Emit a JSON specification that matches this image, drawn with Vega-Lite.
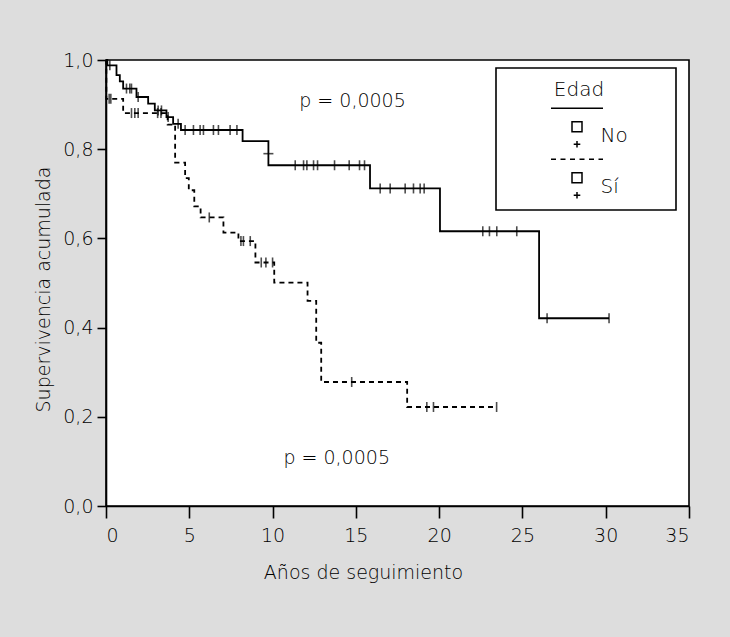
{
  "$schema": "https://vega.github.io/schema/vega-lite/v6.json",
  "width": 583,
  "height": 446,
  "autosize": {"type": "none"},
  "padding": {"left": 106, "top": 60, "right": 41, "bottom": 131},
  "background": "#dddddd",
  "view": {"fill": "white", "stroke": "black", "strokeWidth": 1.6},
  "config": {
    "font": "DejaVu Sans",
    "axis": {
      "domainColor": "black", "domainWidth": 1.6, "tickColor": "black", "tickWidth": 1.6,
      "labelColor": "black", "titleColor": "black", "labelFontSize": 19, "titleFontSize": 19,
      "labelFont": "DejaVu Sans", "titleFont": "DejaVu Sans", "titleFontWeight": 300, "labelFontWeight": 300, "grid": false
    },
    "legend": {
      "labelFont": "DejaVu Sans", "titleFont": "DejaVu Sans"
    }
  },
  "datasets": {
    "curvas": [
      {"grupo": "No", "t": 0, "s": 1.0},
      {"grupo": "No", "t": 0.08, "s": 0.988},
      {"grupo": "No", "t": 0.63, "s": 0.966},
      {"grupo": "No", "t": 0.83, "s": 0.952},
      {"grupo": "No", "t": 1.03, "s": 0.936},
      {"grupo": "No", "t": 1.83, "s": 0.917},
      {"grupo": "No", "t": 2.53, "s": 0.902},
      {"grupo": "No", "t": 2.93, "s": 0.887},
      {"grupo": "No", "t": 3.63, "s": 0.872},
      {"grupo": "No", "t": 4.03, "s": 0.857},
      {"grupo": "No", "t": 4.5, "s": 0.843},
      {"grupo": "No", "t": 8.2, "s": 0.818},
      {"grupo": "No", "t": 9.75, "s": 0.764},
      {"grupo": "No", "t": 15.85, "s": 0.712},
      {"grupo": "No", "t": 20.05, "s": 0.616},
      {"grupo": "No", "t": 26.0, "s": 0.421},
      {"grupo": "No", "t": 30.2, "s": 0.421},
      {"grupo": "Sí", "t": 0, "s": 1.0},
      {"grupo": "Sí", "t": 0.02, "s": 0.913},
      {"grupo": "Sí", "t": 1.03, "s": 0.881},
      {"grupo": "Sí", "t": 3.7, "s": 0.855},
      {"grupo": "Sí", "t": 4.15, "s": 0.77},
      {"grupo": "Sí", "t": 4.75, "s": 0.735},
      {"grupo": "Sí", "t": 4.97, "s": 0.708},
      {"grupo": "Sí", "t": 5.3, "s": 0.672},
      {"grupo": "Sí", "t": 5.68, "s": 0.647},
      {"grupo": "Sí", "t": 7.05, "s": 0.613},
      {"grupo": "Sí", "t": 7.95, "s": 0.594},
      {"grupo": "Sí", "t": 8.97, "s": 0.546},
      {"grupo": "Sí", "t": 10.1, "s": 0.501},
      {"grupo": "Sí", "t": 12.1, "s": 0.46},
      {"grupo": "Sí", "t": 12.62, "s": 0.366},
      {"grupo": "Sí", "t": 12.92, "s": 0.278},
      {"grupo": "Sí", "t": 18.08, "s": 0.222},
      {"grupo": "Sí", "t": 23.45, "s": 0.222}
    ],
    "censuras": [
      {"grupo": "No", "t": 0.23, "s": 0.988},
      {"grupo": "No", "t": 1.23, "s": 0.936},
      {"grupo": "No", "t": 1.43, "s": 0.936},
      {"grupo": "No", "t": 1.53, "s": 0.936},
      {"grupo": "No", "t": 1.93, "s": 0.917},
      {"grupo": "No", "t": 3.13, "s": 0.887},
      {"grupo": "No", "t": 3.33, "s": 0.887},
      {"grupo": "No", "t": 3.73, "s": 0.872},
      {"grupo": "No", "t": 4.33, "s": 0.857},
      {"grupo": "No", "t": 4.75, "s": 0.843},
      {"grupo": "No", "t": 5.25, "s": 0.843},
      {"grupo": "No", "t": 5.65, "s": 0.843},
      {"grupo": "No", "t": 5.85, "s": 0.843},
      {"grupo": "No", "t": 6.45, "s": 0.843},
      {"grupo": "No", "t": 6.75, "s": 0.843},
      {"grupo": "No", "t": 7.45, "s": 0.843},
      {"grupo": "No", "t": 7.86, "s": 0.843},
      {"grupo": "No", "t": 11.36, "s": 0.764},
      {"grupo": "No", "t": 11.86, "s": 0.764},
      {"grupo": "No", "t": 12.06, "s": 0.764},
      {"grupo": "No", "t": 12.46, "s": 0.764},
      {"grupo": "No", "t": 12.7, "s": 0.764},
      {"grupo": "No", "t": 13.72, "s": 0.764},
      {"grupo": "No", "t": 14.6, "s": 0.764},
      {"grupo": "No", "t": 15.22, "s": 0.764},
      {"grupo": "No", "t": 15.52, "s": 0.764},
      {"grupo": "No", "t": 16.46, "s": 0.712},
      {"grupo": "No", "t": 17.06, "s": 0.712},
      {"grupo": "No", "t": 17.96, "s": 0.712},
      {"grupo": "No", "t": 18.46, "s": 0.712},
      {"grupo": "No", "t": 18.86, "s": 0.712},
      {"grupo": "No", "t": 19.1, "s": 0.712},
      {"grupo": "No", "t": 22.62, "s": 0.616},
      {"grupo": "No", "t": 23.02, "s": 0.616},
      {"grupo": "No", "t": 23.46, "s": 0.616},
      {"grupo": "No", "t": 24.66, "s": 0.616},
      {"grupo": "No", "t": 26.48, "s": 0.421},
      {"grupo": "No", "t": 30.2, "s": 0.421},
      {"grupo": "Sí", "t": 0.19, "s": 0.913},
      {"grupo": "Sí", "t": 0.29, "s": 0.913},
      {"grupo": "Sí", "t": 1.53, "s": 0.881},
      {"grupo": "Sí", "t": 1.73, "s": 0.881},
      {"grupo": "Sí", "t": 1.93, "s": 0.881},
      {"grupo": "Sí", "t": 3.1, "s": 0.881},
      {"grupo": "Sí", "t": 3.3, "s": 0.881},
      {"grupo": "Sí", "t": 6.2, "s": 0.647},
      {"grupo": "Sí", "t": 8.1, "s": 0.594},
      {"grupo": "Sí", "t": 8.25, "s": 0.594},
      {"grupo": "Sí", "t": 8.66, "s": 0.594},
      {"grupo": "Sí", "t": 9.32, "s": 0.546},
      {"grupo": "Sí", "t": 9.6, "s": 0.546},
      {"grupo": "Sí", "t": 10.0, "s": 0.546},
      {"grupo": "Sí", "t": 14.75, "s": 0.278},
      {"grupo": "Sí", "t": 19.26, "s": 0.222},
      {"grupo": "Sí", "t": 19.66, "s": 0.222},
      {"grupo": "Sí", "t": 23.45, "s": 0.222}
    ],
    "censurasH": [
      {"grupo": "No", "t": 9.75, "s": 0.79}
    ],
    "notas": [
      {"t": 14.8, "s": 0.908, "texto": "p = 0,0005"},
      {"t": 13.85, "s": 0.107, "texto": "p = 0,0005"}
    ]
  },
  "layer": [
    {
      "data": {"name": "curvas"},
      "transform": [{"filter": "datum.grupo === 'No'"}],
      "mark": {"type": "line", "interpolate": "step-after", "strokeWidth": 1.8},
      "encoding": {
        "x": {
          "field": "t", "type": "quantitative",
          "scale": {"domain": [0, 35], "nice": false, "zero": false},
          "axis": {
            "values": [0, 5, 10, 15, 20, 25, 30, 35], "tickSize": 12, "labelPadding": 8,
            "title": "Años de seguimiento", "titleX": 257, "titleY": 66, "titleBaseline": "middle", "titleAlign": "center"
          }
        },
        "y": {
          "field": "s", "type": "quantitative",
          "scale": {"domain": [0, 1], "nice": false},
          "axis": {
            "values": [0, 0.2, 0.4, 0.6, 0.8, 1.0], "tickSize": 9, "labelPadding": 4,
            "labelExpr": "replace(format(datum.value, '.1f'), '.', ',')",
            "title": "Supervivencia acumulada", "titleX": -63, "titleY": 229, "titleAngle": 270,
            "titleBaseline": "middle", "titleAlign": "center"
          }
        },
        "color": {
          "field": "grupo", "type": "nominal",
          "scale": {"domain": ["No", "Sí"], "range": ["black", "black"]},
          "legend": {
            "title": "Edad", "orient": "none", "legendX": 390, "legendY": 8,
            "padding": 8, "strokeColor": "black", "fillColor": "white",
            "titleFontSize": 20, "titleFontWeight": 300, "titleColor": "black",
            "titleAnchor": "middle", "titleAlign": "center", "titlePadding": 28,
            "labelFontSize": 20, "labelFontWeight": 300, "labelColor": "black",
            "symbolSize": 400, "symbolOffset": 62, "labelOffset": 12.5, "rowPadding": 5,
            "symbolStrokeWidth": 1.5, "symbolStrokeColor": "black",
            "encode": {
              "legend": {"update": {"strokeWidth": {"value": 1.6}}},
              "title": {"update": {"dx": {"value": -7}, "dy": {"value": 4}}},
              "labels": {"update": {"dy": {"value": 1}}},
              "symbols": {
                "update": {
                  "shape": {"signal": "datum.value === 'No' ? 'M-2.6,-2.67H2.6M-0.5,-1.33H0.5V-0.33H-0.5ZM0,0.6V1.25M-0.33,0.92H0.33M8.8,0' : 'M-2.6,-2.67H-2.1M-1.65,-2.67H-1.15M-0.7,-2.67H-0.2M0.25,-2.67H0.75M1.2,-2.67H1.7M2.15,-2.67H2.6M-0.5,-1.33H0.5V-0.33H-0.5ZM0,0.6V1.25M-0.33,0.92H0.33M8.8,0'"},
                  "size": {"value": 400},
                  "fill": {"value": "transparent"},
                  "stroke": {"value": "black"},
                  "strokeWidth": {"value": 1.5}
                }
              }
            }
          }
        }
      }
    },
    {
      "data": {"name": "curvas"},
      "transform": [{"filter": "datum.grupo === 'Sí'"}],
      "mark": {"type": "line", "interpolate": "step-after", "strokeWidth": 1.8, "color": "black", "strokeDash": [5, 4]},
      "encoding": {
        "x": {"field": "t", "type": "quantitative"},
        "y": {"field": "s", "type": "quantitative"}
      }
    },
    {
      "data": {"name": "censuras"},
      "mark": {"type": "tick", "orient": "vertical", "size": 10, "thickness": 1.6, "color": "black"},
      "encoding": {
        "x": {"field": "t", "type": "quantitative"},
        "y": {"field": "s", "type": "quantitative"}
      }
    },
    {
      "data": {"name": "censurasH"},
      "mark": {"type": "tick", "orient": "horizontal", "size": 10, "thickness": 1.6, "color": "black"},
      "encoding": {
        "x": {"field": "t", "type": "quantitative"},
        "y": {"field": "s", "type": "quantitative"}
      }
    },
    {
      "data": {"name": "notas"},
      "mark": {"type": "text", "fontSize": 19, "font": "DejaVu Sans", "fontWeight": 300, "color": "black", "baseline": "middle", "align": "center"},
      "encoding": {
        "x": {"field": "t", "type": "quantitative"},
        "y": {"field": "s", "type": "quantitative"},
        "text": {"field": "texto"}
      }
    }
  ]
}
